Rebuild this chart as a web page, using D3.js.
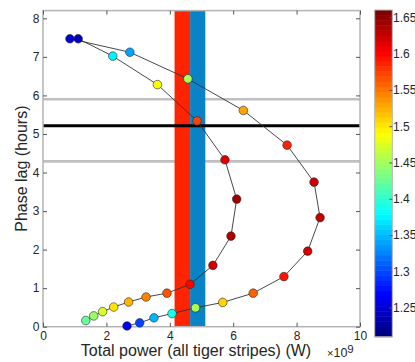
<!DOCTYPE html>
<html>
<head>
<meta charset="utf-8">
<script src="https://cdn.jsdelivr.net/npm/d3@7"></script>
<style>
  body { margin: 0; background: #fff; }
  svg { display: block; font-family: "Liberation Sans", Arial, Helvetica, sans-serif; }
  .axis text { fill: #262626; font-size: 12px; }
  .axis line { stroke: #555; }
  .axis path { display: none; }
</style>
</head>
<body>
<div id="canvas"></div>
<script>
// outer loop (top-left dot -> right -> back along bottom)
const outerPower = [0.85, 2.74, 4.57, 6.32, 7.70, 8.55, 8.74, 8.35, 7.60, 6.63, 5.67, 4.81, 4.07, 3.50, 3.05, 2.65];
const outerLag   = [7.47, 7.12, 6.43, 5.61, 4.71, 3.75, 2.83, 1.96, 1.30, 0.87, 0.63, 0.49, 0.34, 0.23, 0.10, 0.02];
const outerColor = [1.25, 1.34, 1.45, 1.533, 1.586, 1.62, 1.625, 1.62, 1.59, 1.556, 1.51, 1.45, 1.39, 1.345, 1.30, 1.26];

// inner loop
const innerPower = [1.11, 2.20, 3.61, 4.86, 5.74, 6.11, 5.93, 5.36, 4.64, 3.91, 3.25, 2.70, 2.23, 1.88, 1.60, 1.35];
const innerLag   = [7.47, 7.02, 6.28, 5.34, 4.33, 3.31, 2.35, 1.59, 1.10, 0.87, 0.77, 0.64, 0.51, 0.39, 0.28, 0.16];
const innerColor = [1.24, 1.375, 1.49, 1.57, 1.615, 1.64, 1.635, 1.62, 1.60, 1.565, 1.542, 1.52, 1.50, 1.471, 1.445, 1.424];

// shaded power ranges and reference lags
const bandRed  = [4.15, 4.64];
const bandBlue = [4.64, 5.12];
const lagMean  = 5.21;
const lagRange = [4.29, 5.90];

const xTicks = [0, 2, 4, 6, 8, 10];
const yTicks = [0, 1, 2, 3, 4, 5, 6, 7, 8];
const cTicks = [1.25, 1.3, 1.35, 1.4, 1.45, 1.5, 1.55, 1.6, 1.65];

const width = 415;
const height = 362;
const margin = { top: 10.6, left: 43, bottom: 35.3, right: 55 };
const iwidth = width - margin.left - margin.right;
const iheight = height - margin.top - margin.bottom;

// matlab jet
function jet(t) {
  const c = v => Math.max(0, Math.min(1, v));
  const r = c(1.5 - Math.abs(4 * t - 3));
  const g = c(1.5 - Math.abs(4 * t - 2));
  const b = c(1.5 - Math.abs(4 * t - 1));
  return d3.rgb(r * 255, g * 255, b * 255).toString();
}
const cDomain = [1.21, 1.66];
const cnorm = d3.scaleLinear().domain(cDomain).range([0, 1]).clamp(true);
const color = v => jet(Math.floor(cnorm(v) * 63.999) / 63);

const svg = d3.select("#canvas").append("svg")
  .attr("width", width)
  .attr("height", height);

const g = svg.append("g").attr("transform", `translate(${margin.left},${margin.top})`);

const x = d3.scaleLinear().domain([0, 10]).range([0, iwidth]);
const y = d3.scaleLinear().domain([0, 8.2]).range([iheight, 0]);

// gray lag range lines
g.selectAll(".range")
  .data(lagRange)
  .enter().append("line")
  .attr("x1", 0).attr("x2", iwidth)
  .attr("y1", d => y(d)).attr("y2", d => y(d))
  .attr("stroke", "#c0c0c0")
  .attr("stroke-width", 2.6);

// bands
g.append("rect")
  .attr("x", x(bandRed[0])).attr("width", x(bandRed[1]) - x(bandRed[0]))
  .attr("y", 0).attr("height", iheight)
  .attr("fill", "#ff2400");
g.append("rect")
  .attr("x", x(bandBlue[0])).attr("width", x(bandBlue[1]) - x(bandBlue[0]))
  .attr("y", 0).attr("height", iheight)
  .attr("fill", "#0a83c6");

g.append("line")
  .attr("x1", 0).attr("x2", iwidth)
  .attr("y1", y(lagMean)).attr("y2", y(lagMean))
  .attr("stroke", "#000")
  .attr("stroke-width", 3);

// frame
g.append("rect")
  .attr("width", iwidth).attr("height", iheight)
  .attr("fill", "none")
  .attr("stroke", "#b4b4b4")
  .attr("stroke-width", 1.5);

g.append("g").attr("class", "axis")
  .attr("transform", `translate(0,${iheight})`)
  .call(d3.axisBottom(x).tickValues(xTicks).tickSizeInner(-4).tickSizeOuter(0).tickPadding(5));
g.append("g").attr("class", "axis")
  .call(d3.axisTop(x).tickValues(xTicks).tickSizeInner(-4).tickSizeOuter(0).tickFormat(""));
g.append("g").attr("class", "axis")
  .call(d3.axisLeft(y).tickValues(yTicks).tickSizeInner(-4).tickSizeOuter(0).tickPadding(3.5));
g.append("g").attr("class", "axis")
  .attr("transform", `translate(${iwidth},0)`)
  .call(d3.axisRight(y).tickValues(yTicks).tickSizeInner(-4).tickSizeOuter(0).tickFormat(""));

// curves
const series = [
  outerPower.map((p, i) => ({ p: p, lag: outerLag[i], c: outerColor[i] })),
  innerPower.map((p, i) => ({ p: p, lag: innerLag[i], c: innerColor[i] }))
];

const line = d3.line().x(d => x(d.p)).y(d => y(d.lag));

g.selectAll(".curve")
  .data(series)
  .enter().append("path")
  .attr("class", "curve")
  .attr("d", line)
  .attr("fill", "none")
  .attr("stroke", "#333")
  .attr("stroke-width", 0.9);

g.selectAll(".dot")
  .data(series.flat())
  .enter().append("circle")
  .attr("class", "dot")
  .attr("cx", d => x(d.p))
  .attr("cy", d => y(d.lag))
  .attr("r", 4.3)
  .attr("fill", d => color(d.c))
  .attr("stroke", "#2a2a2a")
  .attr("stroke-width", 0.6);

// axis labels
svg.append("text")
  .attr("x", 196)
  .attr("y", 356)
  .attr("text-anchor", "middle")
  .attr("font-size", 16)
  .attr("fill", "#262626")
  .text("Total power (all tiger stripes) (W)");

const expo = svg.append("text")
  .attr("x", 327)
  .attr("y", 356.5)
  .attr("fill", "#262626");
expo.append("tspan").attr("font-size", 11).text("\u00d7");
expo.append("tspan").attr("font-size", 12.5).text("10");
expo.append("tspan").attr("font-size", 11.5).attr("dy", -4).text("9");

svg.append("text")
  .attr("transform", `translate(27,${margin.top + iheight / 2}) rotate(-90)`)
  .attr("text-anchor", "middle")
  .attr("font-size", 16)
  .attr("fill", "#262626")
  .text("Phase lag (hours)");

// colorbar
const cb = { x: 374.7, w: 17.6, top: 10, bottom: 336.7 };
const cy = d3.scaleLinear().domain(cDomain).range([cb.bottom, cb.top]);
const levels = d3.range(64);
const cbar = svg.append("g");
cbar.selectAll("rect")
  .data(levels)
  .enter().append("rect")
  .attr("x", cb.x)
  .attr("width", cb.w)
  .attr("y", d => cy(cDomain[0] + (d + 1) * (cDomain[1] - cDomain[0]) / 64))
  .attr("height", (cb.bottom - cb.top) / 64 + 0.5)
  .attr("fill", d => jet(d / 63));
cbar.append("rect")
  .attr("x", cb.x).attr("y", cb.top)
  .attr("width", cb.w).attr("height", cb.bottom - cb.top)
  .attr("fill", "none")
  .attr("stroke", "#b4b4b4")
  .attr("stroke-width", 1);
cbar.append("g").attr("class", "axis")
  .attr("transform", `translate(${cb.x + cb.w},0)`)
  .call(d3.axisRight(cy).tickValues(cTicks).tickSizeInner(-3).tickSizeOuter(0).tickPadding(0.8).tickFormat(d3.format("~g")))
  .selectAll("text").attr("font-size", 10.2);
</script>
</body>
</html>
